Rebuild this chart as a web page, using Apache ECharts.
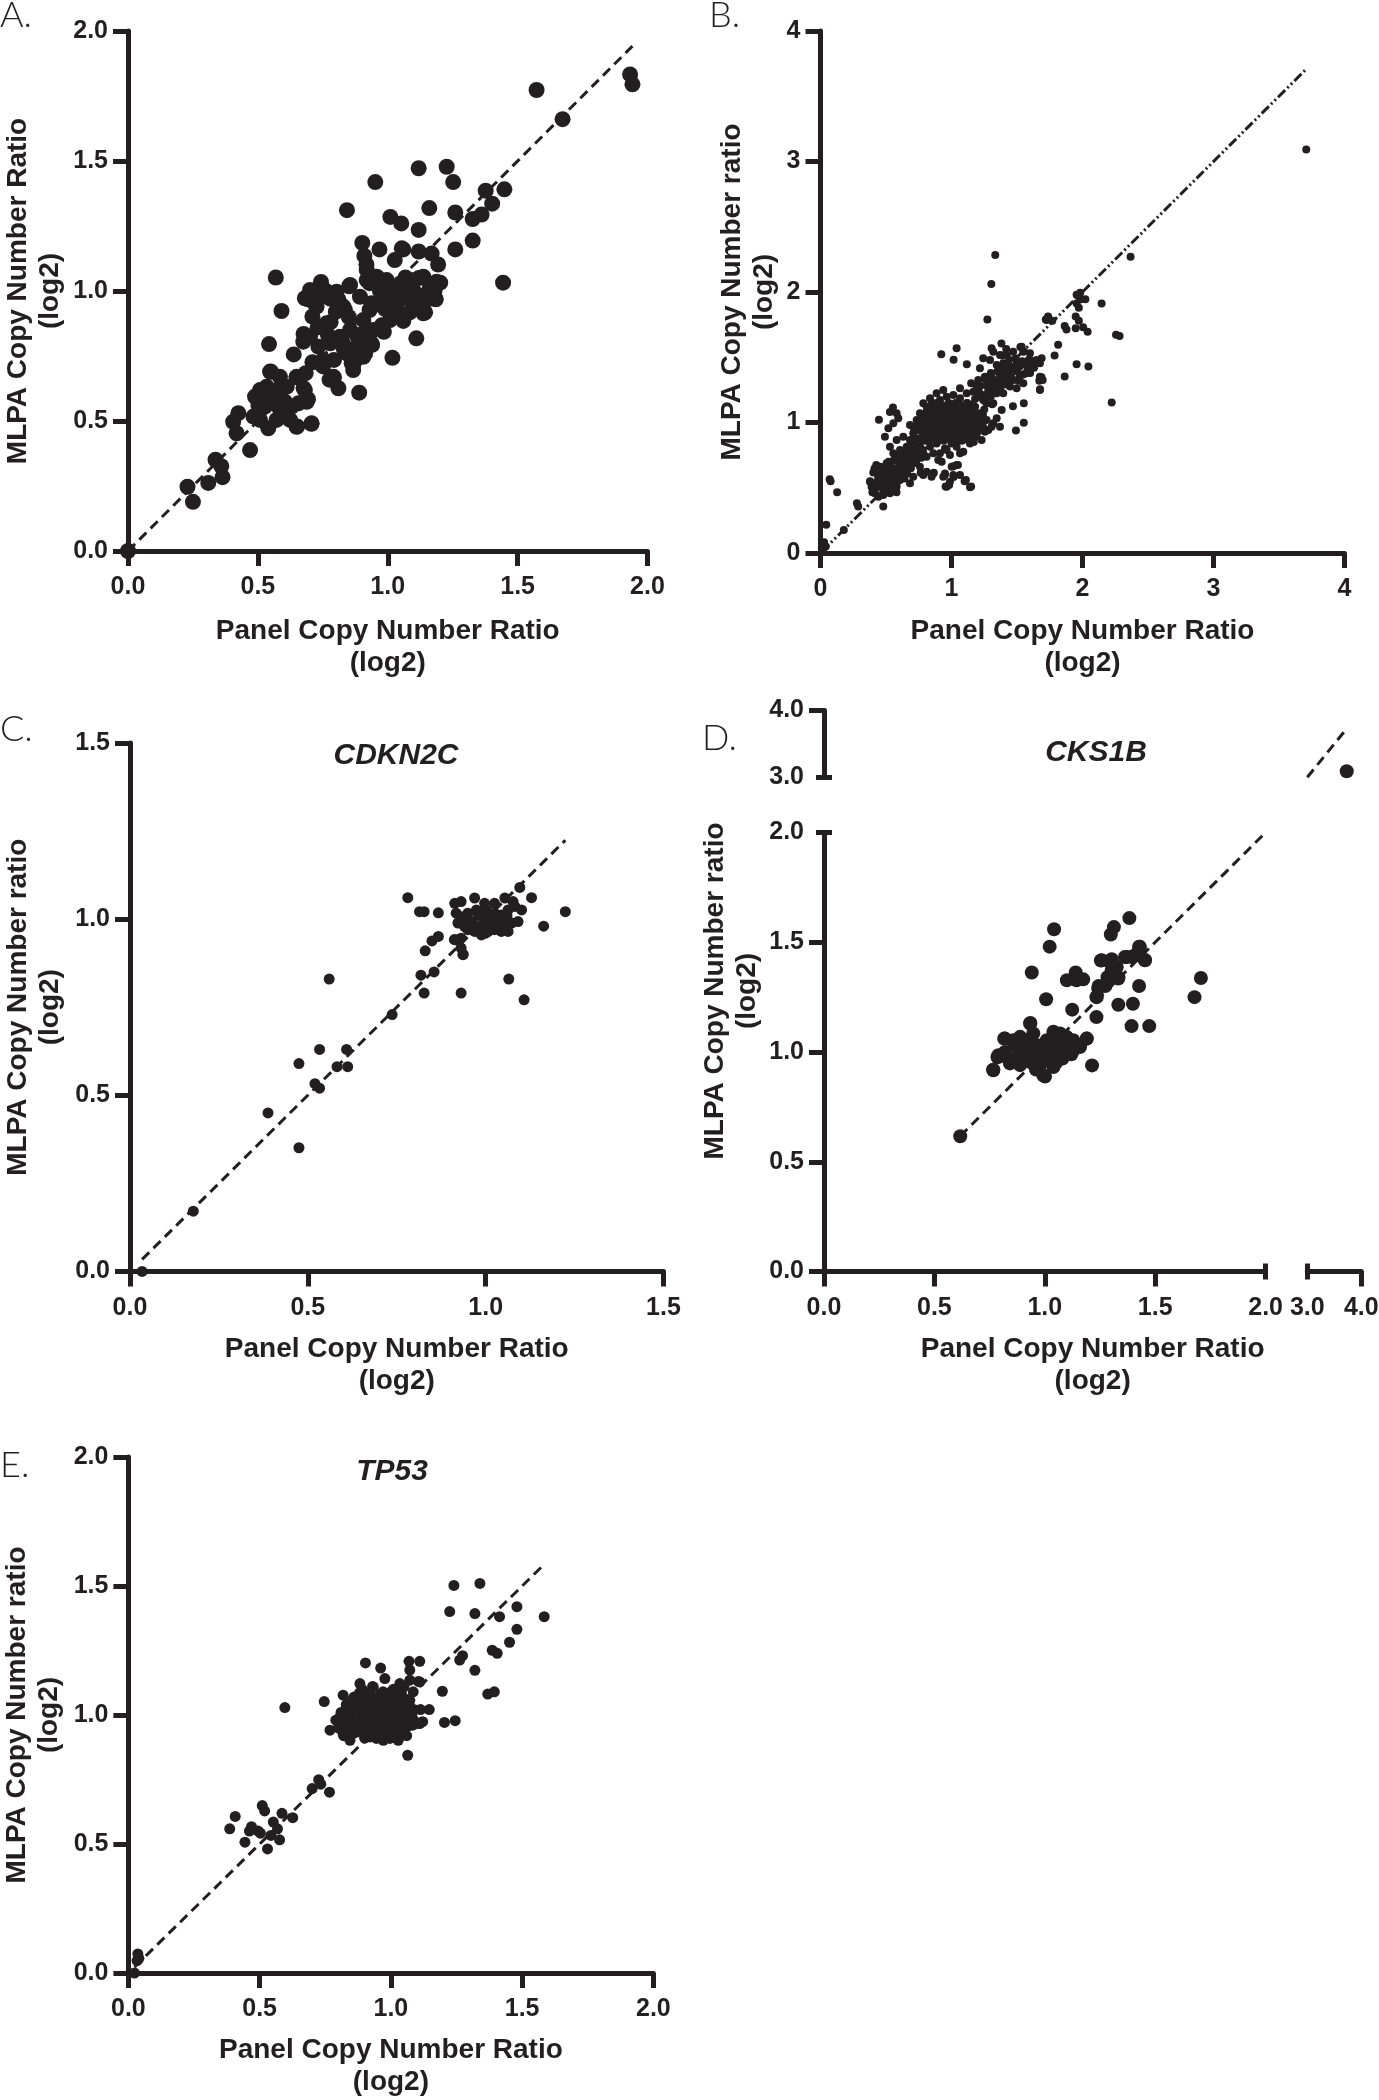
<!DOCTYPE html>
<html>
<head>
<meta charset="utf-8">
<title>MLPA vs panel copy number ratio</title>
<script src="https://cdn.jsdelivr.net/npm/echarts@6/dist/echarts.min.js"></script>
<style>
  html, body { margin: 0; padding: 0; background: #fff; }
  #main { width: 1379px; height: 2100px; }
</style>
</head>
<body>
<div id="main"></div>
<script>
// ---- data: [panel ratio (log2), MLPA ratio (log2)] ----

// A. all probes
var panelA = [
  [0,0],[0.229,0.247],[0.25,0.189],[0.309,0.262],[0.337,0.351],[0.359,0.326],[0.364,0.284],
  [0.503,0.593],[0.504,0.509],[0.543,0.796],[0.551,0.689],[0.569,1.052],[0.591,0.923],[0.638,0.756],
  [0.649,0.668],[0.651,0.479],[0.706,0.489],[0.693,0.584],[0.676,0.626],[0.684,0.684],[0.676,0.835],
  [0.693,0.968],[0.71,0.902],[0.743,1.035],[0.76,1.002],[0.71,0.726],[0.751,0.71],[0.776,0.659],
  [0.793,0.668],[0.81,0.626],[0.793,0.735],[0.776,0.81],[0.826,0.801],[0.835,0.927],[0.81,0.968],
  [0.843,1.311],[0.876,0.735],[0.868,0.718],[0.89,0.609],[0.851,1.018],[0.902,1.185],[0.918,1.102],
  [0.91,1.135],[0.952,1.419],[0.91,0.818],[0.913,0.76],[0.935,0.801],[0.94,0.793],[0.93,0.927],
  [0.968,1.16],[0.977,0.868],[0.985,0.843],[0.96,1.052],[0.993,0.952],[0.985,0.985],[1.01,1.285],
  [1.018,0.743],[1.027,1.119],[1.035,0.935],[1.052,1.26],[1.06,0.885],[1.06,1.16],[1.068,1.052],
  [1.085,0.918],[1.11,0.818],[1.119,1.472],[1.119,1.235],[1.119,1.152],[1.144,0.918],[1.16,1.319],
  [1.169,1.144],[1.185,0.968],[1.194,1.102],[1.202,1.032],[1.227,1.478],[1.252,1.419],[1.26,1.302],
  [1.26,1.16],[1.327,1.277],[1.327,1.194],[1.361,1.294],[1.377,1.386],[1.402,1.336],[1.444,1.032],
  [1.449,1.391],[1.573,1.773],[1.673,1.661],[1.933,1.833],[1.942,1.795]
];
var panelA_low = [
  [0.489,0.594],[0.508,0.619],[0.534,0.632],[0.56,0.606],[0.585,0.626],[0.611,0.632],[0.649,0.67],
  [0.681,0.619],[0.688,0.574],[0.502,0.562],[0.527,0.555],[0.553,0.574],[0.579,0.555],[0.604,0.574],
  [0.63,0.555],[0.656,0.568],[0.483,0.517],[0.508,0.504],[0.54,0.472],[0.572,0.504],[0.598,0.517],
  [0.624,0.504],[0.649,0.478],[0.707,0.491],[0.547,0.69],[0.585,0.67],[0.47,0.388],[0.425,0.53],
  [0.405,0.497],[0.418,0.453]
];
var panelA_mid = [
  [0.681,0.972],[0.701,1.004],[0.726,0.94],[0.765,0.876],[0.803,0.997],[0.829,0.94],[0.855,1.023],
  [0.893,0.978],[0.919,1.042],[0.957,1.055],[0.996,1.042],[1.034,1.017],[1.06,0.991],[1.086,1.042],
  [1.137,1.055],[1.163,1.017],[1.188,1.036],[1.182,0.972],[1.137,0.914],[1.06,0.901],[1.009,0.888],
  [0.983,0.94],[0.938,0.953],[0.906,0.888],[0.855,0.85],[0.816,0.824],[0.778,0.799],[0.733,0.786],
  [0.701,0.824],[0.675,0.805],[0.752,0.735],[0.79,0.67],[0.842,0.76],[0.88,0.786],[0.906,0.837],
  [0.944,0.85],[0.977,0.863],[0.867,0.696],[0.861,0.722],[0.906,0.747],[1.054,1.164],[0.919,1.081],
  [1.0,1.02],[1.05,1.03],[1.1,1.0],[1.12,1.05],[0.97,1.0],[0.93,1.03],[1.15,0.99],[1.08,0.97],
  [1.13,0.95],[0.99,0.93],[1.02,0.97],[1.18,1.0],[1.16,0.97],[0.78,0.88],[0.8,0.92],[0.85,0.9],
  [0.88,0.83],[0.83,0.78],[0.77,0.83],[0.9,0.79],[0.92,0.82],[0.75,0.98],[0.72,0.95],[0.73,0.86],
  [0.78,0.97]
];

// B. all genes
var panelB_spread = [
  [3.708,3.092],[2.367,2.271],[2.146,1.912],[2.223,1.154],[2.256,1.672],[2.283,1.662],[2.045,1.43],
  [1.955,1.446],[1.864,1.353],[1.864,1.739],[1.878,1.712],[1.948,1.812],[1.972,1.779],[1.955,1.978],
  [1.982,1.995],[1.988,1.945],[2.022,1.945],[1.955,1.912],[1.948,1.722],[2.039,1.696],[2.005,1.729],
  [1.972,1.879],[1.814,1.596],[1.787,1.513],[1.72,1.789],[1.737,1.812],[1.77,1.779],[1.726,1.786],
  [1.687,1.347],[1.67,1.32],[1.676,1.254],[1.334,2.284],[1.304,2.062],[1.274,1.789],[1.552,0.998],
  [1.492,0.938],[1.469,1.124],[1.552,1.147],[1.385,1.513],[1.418,1.563],[1.381,1.606],[1.526,1.579],
  [1.552,1.546],[1.039,1.569],[0.922,1.523],[1.016,1.48],[1.117,1.446],
  [0.949,0.598],[0.982,0.522],[1.016,0.582],[1.016,0.665],[1.049,0.675],[1.1,0.549],[1.15,0.509],
  [0.955,0.509],[0.865,0.615],[0.765,0.615],
  [0.07,0.565],[0.077,0.549],[0.127,0.465],[0.278,0.382],[0.288,0.356],[0.178,0.176],[0.044,0.216],
  [0.027,0.083],[0.01,0.043],[0.02,0.03],[0.04,0.05],[0.479,0.356],[0.446,1.021],[0.553,1.114],
  [0.53,1.081]
];
var panelB_upper = [
  [1.306,1.569],[1.319,1.543],[1.37,1.518],[1.421,1.518],[1.471,1.543],[1.535,1.581],[1.548,1.543],
  [1.599,1.531],[1.65,1.479],[1.675,1.454],[1.688,1.492],[1.497,1.454],[1.446,1.428],[1.395,1.454],
  [1.345,1.441],[1.294,1.479],[1.242,1.492],[1.217,1.415],[1.255,1.351],[1.306,1.326],[1.37,1.351],
  [1.421,1.377],[1.471,1.326],[1.522,1.351],[1.573,1.377],[1.548,1.3],[1.497,1.262],[1.446,1.275],
  [1.395,1.224],[1.345,1.224],[1.281,1.275],[1.242,1.173],[1.192,1.275],[1.204,1.326],[1.675,1.351],
  [1.696,1.326],[1.675,1.249],[1.37,1.262],[1.268,1.147],[1.383,1.096],[1.345,1.032],[1.319,0.994],
  [1.281,0.943],[1.37,0.968],
  [1.25,1.1],[1.3,1.2],[1.33,1.25],[1.2,1.25],[1.15,1.3],[1.35,1.3],[1.4,1.35],[1.45,1.38],
  [1.5,1.4],[1.55,1.45],[1.6,1.48],[1.42,1.45],[1.38,1.4],[1.58,1.4],[1.62,1.45],
  [1.22,1.28],[1.27,1.29],[1.32,1.27],[1.38,1.28],[1.43,1.29],
  [1.26,1.33],[1.31,1.34],[1.36,1.32],[1.41,1.33],[1.46,1.34],[1.51,1.32],
  [1.30,1.38],[1.35,1.39],[1.40,1.37],[1.45,1.38],[1.50,1.39],[1.55,1.37],[1.60,1.38],
  [1.36,1.43],[1.41,1.44],[1.47,1.42],[1.52,1.43],[1.57,1.44],[1.63,1.42],
  [1.44,1.48],[1.49,1.49],[1.54,1.47],[1.59,1.48],
  [1.18,1.18],[1.22,1.22],[1.26,1.16],[1.28,1.24],[1.31,1.14],[1.24,1.06]
];
var panelB_core = [
  [0.734,1.019],[0.759,1.071],[0.81,1.121],[0.861,1.147],[0.912,1.173],[0.963,1.198],[1.014,1.211],
  [1.065,1.186],[1.116,1.147],[1.166,1.121],[1.217,1.071],[1.268,1.019],[1.306,0.968],[0.746,0.943],
  [0.797,0.968],[0.848,1.019],[0.899,1.045],[0.95,1.071],[1.001,1.096],[1.052,1.083],[1.103,1.057],
  [1.154,1.019],[1.204,0.981],[1.255,0.929],[0.772,0.866],[0.823,0.891],[0.874,0.917],[0.925,0.943],
  [0.975,0.968],[1.026,0.994],[1.077,0.968],[1.128,0.929],[1.179,0.891],[1.23,0.866],[0.836,0.814],
  [0.886,0.84],[0.937,0.866],[0.988,0.891],[1.039,0.904],[1.09,0.879],[1.141,0.84],[0.912,0.764],
  [0.963,0.789],[1.039,0.814],[1.09,0.776],[0.886,1.224],[0.937,1.249],[0.836,1.186],[0.785,1.147],
  [0.708,0.968],[0.683,0.981],[0.734,0.879],[1.065,1.262],[1.116,1.224],[1.166,1.236],[1.217,1.198],
  [1.268,1.211],[1.319,1.147],
  [0.861,0.764],[0.899,0.712],[0.988,0.751],[1.065,0.764],[0.925,0.699],[0.785,0.597],[0.861,0.61],
  [0.95,0.61],[1.001,0.661],[1.039,0.674],[1.065,0.597],[1.11,0.559],[1.141,0.503],[0.963,0.508],
  [0.988,0.546],
  [0.78,1.0],[0.82,1.05],[0.87,1.1],[0.93,1.12],[0.98,1.15],[1.03,1.13],[1.08,1.1],[1.13,1.08],
  [1.18,1.05],[1.23,1.02],[0.85,0.95],[0.9,0.98],[0.95,1.0],[1.0,1.02],[1.05,1.03],[1.1,1.0],
  [1.15,0.97],[1.2,0.93],[0.88,0.88],[0.93,0.9],[0.98,0.93],[1.03,0.95],[1.08,0.92],[1.13,0.9],
  [0.9,1.04],[0.96,1.05],[1.01,1.06],[1.06,1.07],[0.8,0.92],[0.83,0.87],[1.0,0.84],[1.05,0.86],
  [0.95,0.8],[1.12,1.15],[1.18,1.12]
];
var panelB_dense = [
  [0.80,0.86],[0.85,0.87],[0.89,0.85],[0.94,0.86],[0.99,0.87],[1.03,0.85],[1.08,0.86],[1.12,0.87],[1.17,0.85],
  [0.78,0.90],[0.83,0.91],[0.87,0.89],[0.92,0.90],[0.96,0.91],[1.01,0.89],[1.05,0.90],[1.10,0.91],[1.15,0.89],[1.19,0.90],
  [0.76,0.94],[0.80,0.95],[0.85,0.93],[0.89,0.94],[0.94,0.95],[0.98,0.93],[1.03,0.94],[1.07,0.95],[1.12,0.93],[1.16,0.94],[1.21,0.95],
  [0.75,0.98],[0.79,0.99],[0.84,0.97],[0.88,0.98],[0.93,0.99],[0.97,0.97],[1.02,0.98],[1.06,0.99],[1.11,0.97],[1.15,0.98],[1.20,0.99],[1.24,0.97],
  [0.77,1.02],[0.81,1.03],[0.86,1.01],[0.90,1.02],[0.95,1.03],[0.99,1.01],[1.04,1.02],[1.08,1.03],[1.13,1.01],[1.17,1.02],[1.22,1.03],
  [0.79,1.06],[0.84,1.07],[0.88,1.05],[0.93,1.06],[0.97,1.07],[1.02,1.05],[1.06,1.06],[1.11,1.07],[1.15,1.05],[1.20,1.06],
  [0.82,1.10],[0.86,1.11],[0.91,1.09],[0.95,1.10],[1.00,1.11],[1.04,1.09],[1.09,1.10],[1.13,1.11],
  [0.85,1.14],[0.89,1.15],[0.94,1.13],[0.98,1.14],[1.03,1.15],[1.07,1.13],
  [0.82,0.88],[0.87,0.88],[0.91,0.87],[0.96,0.88],[1.01,0.88],[1.05,0.87],[1.10,0.88],[1.14,0.88],
  [0.80,0.92],[0.85,0.92],[0.90,0.93],[0.94,0.92],[0.99,0.92],[1.03,0.93],[1.08,0.92],[1.13,0.92],[1.17,0.93],
  [0.78,0.96],[0.82,0.96],[0.87,0.95],[0.91,0.96],[0.96,0.96],[1.00,0.95],[1.05,0.96],[1.09,0.96],[1.14,0.95],[1.18,0.96],[1.22,0.96],
  [0.77,1.00],[0.82,1.00],[0.86,0.99],[0.91,1.00],[0.95,1.00],[1.00,0.99],[1.04,1.00],[1.09,1.00],[1.13,0.99],[1.18,1.00],[1.22,1.00],
  [0.79,1.04],[0.83,1.04],[0.88,1.03],[0.92,1.04],[0.97,1.04],[1.01,1.03],[1.06,1.04],[1.10,1.04],[1.15,1.03],[1.19,1.04],
  [0.81,1.08],[0.86,1.08],[0.90,1.07],[0.95,1.08],[0.99,1.08],[1.04,1.07],[1.08,1.08],[1.13,1.08],[1.17,1.07],
  [0.84,1.12],[0.89,1.12],[0.93,1.11],[0.98,1.12],[1.02,1.12],[1.07,1.11],[1.11,1.12]
];
var panelB_lower = [
  [0.426,0.674],[0.403,0.616],[0.378,0.546],[0.39,0.508],[0.416,0.457],[0.442,0.431],[0.479,0.444],
  [0.53,0.457],[0.581,0.508],[0.581,1.071],[0.594,1.032],[0.556,0.994],[0.518,0.955],[0.492,0.891],
  [0.454,0.559],[0.505,0.585],[0.556,0.636],[0.607,0.687],[0.658,0.738],[0.708,0.789],[0.759,0.814],
  [0.556,0.764],[0.607,0.789],[0.53,0.814],[0.581,0.866],[0.632,0.891],[0.683,0.866],[0.658,0.814],
  [0.708,0.917],[0.454,0.661],[0.505,0.687],[0.479,0.61],[0.53,0.534],[0.581,0.585],[0.632,0.585],
  [0.683,0.661],[0.734,0.712],[0.759,0.661],[0.81,0.738],[0.785,0.764],[0.429,0.508],[0.479,0.495],
  [0.556,0.534],[0.607,0.559],[0.658,0.61],[0.708,0.585],[0.683,0.534],[0.81,0.623],[0.848,0.585],
  [0.937,0.585],[1.014,0.597],[0.379,0.549],[0.396,0.465],[0.412,0.648],[0.479,0.482],[0.58,0.465],
  [0.446,0.598],
  [0.42,0.50],[0.46,0.51],[0.50,0.49],[0.54,0.50],
  [0.43,0.54],[0.47,0.55],[0.51,0.53],[0.55,0.54],[0.59,0.55],
  [0.44,0.58],[0.48,0.59],[0.52,0.57],[0.56,0.58],[0.60,0.59],[0.64,0.57],
  [0.46,0.62],[0.50,0.63],[0.54,0.61],[0.58,0.62],[0.62,0.63],[0.66,0.61],
  [0.49,0.66],[0.53,0.67],[0.57,0.65],[0.61,0.66],[0.65,0.67],[0.69,0.65],
  [0.52,0.70],[0.56,0.71],[0.60,0.69],[0.64,0.70],[0.68,0.71],[0.72,0.69],
  [0.57,0.74],[0.61,0.75],[0.65,0.73],[0.69,0.74],[0.73,0.75],[0.77,0.73],
  [0.62,0.78],[0.66,0.79],[0.70,0.77],[0.74,0.78],[0.78,0.79],
  [0.68,0.82],[0.72,0.83],[0.76,0.81]
];

// C. CDKN2C
var panelC = [
  [0.034,0],[0.178,0.171],[0.388,0.45],[0.475,0.351],[0.475,0.59],[0.52,0.533],[0.533,0.52],
  [0.533,0.63],[0.56,0.83],[0.582,0.581],[0.609,0.63],[0.612,0.581],[0.737,0.729],[0.781,1.061],
  [0.814,1.021],[0.827,1.021],[0.83,0.91],[0.818,0.841],[0.827,0.79],[0.849,0.938],[0.867,0.951],
  [0.855,0.85],[0.867,1.018],[0.931,0.79],[0.937,0.9],[0.912,0.942],[1.065,0.83],[1.108,0.771],
  [1.163,0.98],[1.224,1.021],[1.129,1.061],[1.096,1.09]
];
var panelC_cluster = [
  [0.913,1.045],[0.931,1.05],[0.969,1.06],[0.997,1.045],[1.025,1.045],[1.054,1.06],[1.077,1.05],
  [0.917,1.017],[0.931,1.007],[0.95,1.017],[0.974,1.026],[1.002,1.026],[1.025,1.017],[1.044,1.012],
  [1.063,1.026],[1.082,1.036],[1.101,1.026],[0.922,0.989],[0.941,0.979],[0.96,0.993],[0.979,0.979],
  [0.997,0.989],[1.016,0.998],[1.035,0.984],[1.054,0.979],[1.073,0.989],[1.091,0.993],[0.969,0.965],
  [0.988,0.955],[1.007,0.965],[1.025,0.97],[1.044,0.965],[1.063,0.965],[0.931,0.946],[0.917,0.941],
  [0.931,0.918],[0.936,0.899],[1.0,1.0],[0.99,0.97],[1.04,1.0],[0.95,1.0],[1.06,1.01],
  [0.94,1.0],[0.98,1.01],[1.02,0.99],[1.06,1.0],[0.95,0.97],[1.0,0.96],[1.05,0.97]
];

// D. CKS1B (one point beyond the axis break)
var panelD = [
  [0.617,0.616],[0.766,0.919],[0.786,0.976],[0.816,1.061],[0.941,1.362],[0.935,1.132],[1.006,1.24],
  [1.022,1.48],[1.042,1.559],[1.001,0.888],[1.1,1.327],[1.144,1.327],[1.124,1.193],[1.14,1.362],
  [1.174,1.331],[1.19,1.061],[1.214,0.939],[1.234,1.159],[1.234,1.25],[1.244,1.301],[1.254,1.417],
  [1.299,1.535],[1.313,1.569],[1.333,1.215],[1.383,1.61],[1.399,1.22],[1.393,1.118],[1.427,1.301],
  [1.427,1.48],[1.453,1.419],[1.473,1.118],[1.678,1.25],[1.707,1.337],[1.303,1.372],[1.333,1.341],
  [1.284,1.341],[1.274,1.301],[1.303,1.423],[1.363,1.433],[1.393,1.433],[1.423,1.453],
  [1.258,1.418],[1.295,1.41],[1.326,1.387],[1.371,1.433],[1.408,1.441],[1.431,1.479],[1.454,1.418],
  [1.242,1.289],[1.235,1.251],[1.28,1.312],[1.31,1.357],[1.333,1.335]
];
var panelD_cluster = [
  [0.767,0.917],[0.79,0.985],[0.82,1.061],[0.858,1.054],[0.888,1.069],[0.918,1.054],[0.948,1.039],
  [0.978,1.023],[1.009,1.054],[1.039,1.092],[1.069,1.084],[1.099,1.069],[1.129,1.054],[1.159,1.023],
  [1.19,1.061],[0.827,0.978],[0.858,0.963],[0.888,0.993],[0.918,0.978],[0.948,0.993],[0.978,0.978],
  [1.009,0.993],[1.039,1.008],[1.069,1.023],[1.099,1.023],[1.129,1.008],[0.842,0.948],[0.888,0.94],
  [0.933,0.955],[0.978,0.94],[1.024,0.963],[1.069,0.978],[0.993,0.894],[1.039,0.932],[0.948,1.084],
  [0.903,1.023],[1.024,1.039],[0.933,1.13],
  [0.84,0.96],[0.90,0.97],[0.96,0.95],[1.02,0.96],[1.08,0.97],
  [0.82,1.00],[0.88,1.01],[0.94,0.99],[1.00,1.00],[1.06,1.01],[1.12,0.99],
  [0.86,1.04],[0.92,1.05],[0.98,1.03],[1.04,1.04],[1.10,1.05],[1.16,1.03],
  [1.05,0.95],[0.96,0.92]
];
var panelD_break = [[3.73,3.09]];

// E. TP53
var panelE = [
  [0.023,0],[0.036,0.074],[0.033,0.048],[0.04,0.057],[0.386,0.559],[0.407,0.607],[0.444,0.507],
  [0.461,0.55],[0.469,0.567],[0.51,0.649],[0.519,0.628],[0.53,0.481],[0.503,0.542],[0.543,0.533],
  [0.568,0.559],[0.576,0.516],[0.585,0.619],[0.626,0.602],[0.552,0.585],[0.494,0.55],[0.596,1.029],
  [0.7,0.715],[0.725,0.749],[0.733,0.732],[0.766,0.701],[0.746,1.052],[1.064,0.844],[1.196,1.092],
  [1.204,0.971],[1.245,0.978],[1.146,1.021],[1.224,1.401],[1.24,1.502],[1.32,1.393],[1.339,1.51],
  [1.262,1.213],[1.273,1.23],[1.32,1.173],[1.369,1.081],[1.394,1.09],[1.386,1.251],[1.405,1.239],
  [1.414,1.381],[1.452,1.282],[1.48,1.332],[1.48,1.42],[1.584,1.381],[0.903,1.202],[0.961,1.182],
  [1.069,1.208],[1.11,1.208],[1.105,1.13],[1.113,1.021],[1.121,0.974]
];
var panelE_cluster = [
  [0.768,0.941],[0.818,1.077],[0.806,0.993],[0.818,0.928],[0.844,0.902],[0.856,0.954],[0.831,1.019],
  [0.856,1.045],[0.882,1.122],[0.977,1.141],[0.933,1.109],[0.907,1.07],[0.882,1.031],[0.869,0.98],
  [0.895,0.941],[0.92,0.915],[0.945,0.909],[0.971,0.902],[0.996,0.909],[1.028,0.902],[1.034,0.941],
  [1.06,0.954],[1.085,0.98],[1.11,0.967],[1.085,1.019],[1.072,1.057],[1.085,1.09],[1.072,1.135],
  [1.11,1.128],[1.034,1.122],[1.009,1.096],[0.984,1.083],[0.958,1.057],[0.933,1.031],[0.907,1.006],
  [0.92,0.967],[0.945,0.993],[0.971,1.019],[0.996,1.045],[1.022,1.07],[1.047,1.045],[1.06,1.006],
  [1.034,0.98],[1.009,0.993],[0.984,0.967],[0.958,0.954],[0.996,0.954],[1.022,1.019],[1.072,1.174]
];
var panelE_dense = [
  [0.82,0.92],[0.86,0.93],[0.90,0.91],[0.94,0.92],[0.98,0.93],[1.02,0.91],[1.06,0.92],
  [0.80,0.95],[0.84,0.96],[0.88,0.94],[0.92,0.95],[0.96,0.96],[1.00,0.94],[1.04,0.95],[1.08,0.96],
  [0.79,0.98],[0.83,0.99],[0.87,0.97],[0.91,0.98],[0.95,0.99],[0.99,0.97],[1.03,0.98],[1.07,0.99],[1.10,0.97],
  [0.81,1.01],[0.85,1.02],[0.89,1.00],[0.93,1.01],[0.97,1.02],[1.01,1.00],[1.05,1.01],[1.09,1.02],
  [0.83,1.04],[0.87,1.05],[0.91,1.03],[0.95,1.04],[0.99,1.05],[1.03,1.03],[1.07,1.04],
  [0.86,1.07],[0.90,1.08],[0.94,1.06],[0.98,1.07],[1.02,1.08],[1.06,1.06],
  [0.89,1.10],[0.93,1.11],[0.97,1.09],[1.01,1.10],[1.05,1.11],
  [0.84,0.935],[0.88,0.935],[0.92,0.93],[0.96,0.94],[1.00,0.935],[1.04,0.93],
  [0.82,0.965],[0.86,0.965],[0.90,0.96],[0.94,0.97],[0.98,0.965],[1.02,0.96],[1.06,0.97],[1.09,0.965],
  [0.81,0.995],[0.85,0.995],[0.89,0.99],[0.93,1.0],[0.97,0.995],[1.01,0.99],[1.05,1.0],[1.08,0.995],
  [0.83,1.025],[0.87,1.025],[0.91,1.02],[0.95,1.03],[0.99,1.025],[1.03,1.02],[1.07,1.03],
  [0.85,1.055],[0.89,1.055],[0.93,1.05],[0.97,1.06],[1.01,1.055],[1.05,1.05],
  [0.88,1.085],[0.92,1.085],[0.96,1.08],[1.00,1.09],[1.04,1.085]
];

var INK = '#231f20';
var FONT = '"Liberation Sans", Arial, Helvetica, sans-serif';
var xTitle = 'Panel Copy Number Ratio\n(log2)';

function fmt1(v) { return v.toFixed(1); }
function fmt0(v) { return String(Math.round(v)); }

// one x + one y axis per grid, so grid/x/y indices always match
var grids = [], xAxes = [], yAxes = [], series = [];

function addGrid(rect, xa, ya) {
  var gi = grids.length;
  rect.containLabel = false;
  rect.outerBoundsMode = 'none';
  grids.push(rect);
  xa.gridIndex = gi; ya.gridIndex = gi;
  xAxes.push(xa); yAxes.push(ya);
  return gi;
}

function valAxis(min, max, step, o) {
  o = o || {};
  var a = {
    type: 'value', min: min, max: max, interval: step,
    splitLine: { show: false },
    axisLine: { show: o.line !== false, onZero: false, lineStyle: { color: INK, width: 5 } },
    axisTick: { show: o.tick !== false, length: o.tickLen || 15, inside: !!o.inside,
                lineStyle: { color: INK, width: 5 } },
    axisLabel: { show: o.label !== false, margin: o.margin || 20, color: INK, fontSize: 25,
                 fontWeight: 'bold', fontFamily: FONT, formatter: o.fmt || fmt1 }
  };
  if (o.ticks) a.axisTick.customValues = o.ticks;
  if (o.name) {
    a.name = o.name;
    a.nameLocation = 'middle';
    a.nameGap = o.nameGap;
    if (o.rotate) a.nameRotate = 90;
    a.nameTextStyle = { color: INK, fontSize: 28, fontWeight: 'bold', fontFamily: FONT, lineHeight: 32 };
  }
  return a;
}
function hidden(min, max) { return { type: 'value', show: false, min: min, max: max }; }

function addPoints(gi, pts, size) {
  series.push({ type: 'scatter', xAxisIndex: gi, yAxisIndex: gi, data: pts, symbolSize: size,
                itemStyle: { color: INK, opacity: 1 }, z: 3, silent: true });
}
// dashed line of identity, from lo to hi
function addIdentity(gi, lo, hi, dash) {
  series.push({ type: 'line', xAxisIndex: gi, yAxisIndex: gi, data: [[lo, lo], [hi, hi]],
                symbol: 'none', lineStyle: { color: INK, width: 3, type: dash }, z: 2, silent: true });
}
function minX(pts) { return Math.min.apply(null, pts.map(function (p) { return p[0]; })); }
function maxX(pts) { return Math.max.apply(null, pts.map(function (p) { return p[0]; })); }

var DASH = [10, 6];

// A
var allA = panelA.concat(panelA_low, panelA_mid);
var gA = addGrid({ left: 128, top: 31, width: 519.5, height: 520 },
  valAxis(0, 2, 0.5, { margin: 24, name: xTitle, nameGap: 64 }),
  valAxis(0, 2, 0.5, { name: 'MLPA Copy Number Ratio\n(log2)', nameGap: 62, rotate: true }));
addIdentity(gA, minX(allA), maxX(allA), DASH);
addPoints(gA, allA, 16);

// B
var allB = panelB_spread.concat(panelB_upper, panelB_core, panelB_dense, panelB_lower);
var gB = addGrid({ left: 820.5, top: 31, width: 524, height: 522 },
  valAxis(0, 4, 1, { margin: 24, fmt: fmt0, name: xTitle, nameGap: 62 }),
  valAxis(0, 4, 1, { fmt: fmt0, name: 'MLPA Copy Number ratio\n(log2)', nameGap: 40, rotate: true }));
addIdentity(gB, minX(allB), maxX(allB), [10, 3, 2, 3, 2, 3]);
addPoints(gB, allB, 8);

// C
var allC = panelC.concat(panelC_cluster);
var gC = addGrid({ left: 130, top: 743, width: 533.5, height: 528.4 },
  valAxis(0, 1.5, 0.5, { margin: 24, name: xTitle, nameGap: 62 }),
  valAxis(0, 1.5, 0.5, { name: 'MLPA Copy Number ratio\n(log2)', nameGap: 64, rotate: true }));
addIdentity(gC, minX(allC), maxX(allC), DASH);
addPoints(gC, allC, 11);

// D, broken axes: main 0-2, top 3-4 (y), right 3-4 (x)
var allD = panelD.concat(panelD_cluster);
var dMain = { left: 824, top: 832.5, width: 441.6, height: 439 };
var dTop = { left: 824, top: 710.5, width: 441.6, height: 66.8 };
var dRight = { left: 1307.3, top: 832.5, width: 54, height: 439 };
var dCorner = { left: 1307.3, top: 710.5, width: 54, height: 66.8 };
function copy(r) { return { left: r.left, top: r.top, width: r.width, height: r.height }; }

var gD = addGrid(copy(dMain),
  valAxis(0, 2, 0.5, { margin: 24, ticks: [0, 0.5, 1, 1.5] }),
  valAxis(0, 2, 0.5, { ticks: [0, 0.5, 1, 1.5] }));
// end caps at 2.0 crossing the axis line
addGrid(copy(dMain),
  valAxis(0, 2, 0.5, { line: false, label: false, ticks: [2], tickLen: 8 }),
  valAxis(0, 2, 0.5, { line: false, label: false, ticks: [2], tickLen: 8 }));
addGrid(copy(dMain),
  valAxis(0, 2, 0.5, { line: false, label: false, ticks: [2], tickLen: 8, inside: true }),
  valAxis(0, 2, 0.5, { line: false, label: false, ticks: [2], tickLen: 8, inside: true }));
addGrid(copy(dTop), hidden(0, 2), valAxis(3, 4, 1, { ticks: [4] }));
addGrid(copy(dTop), hidden(0, 2), valAxis(3, 4, 1, { line: false, label: false, ticks: [3], tickLen: 8 }));
addGrid(copy(dTop), hidden(0, 2), valAxis(3, 4, 1, { line: false, label: false, ticks: [3], tickLen: 8, inside: true }));
addGrid(copy(dRight), valAxis(3, 4, 1, { margin: 24, ticks: [4] }), hidden(0, 2));
addGrid(copy(dRight), valAxis(3, 4, 1, { line: false, label: false, ticks: [3], tickLen: 8 }), hidden(0, 2));
addGrid(copy(dRight), valAxis(3, 4, 1, { line: false, label: false, ticks: [3], tickLen: 8, inside: true }), hidden(0, 2));
var gDc = addGrid(copy(dCorner), hidden(3, 4), hidden(3, 4));
// axis titles centred on the whole broken frame
addGrid({ left: 824, top: 710.5, width: 537.3, height: 561 },
  valAxis(0, 1, 1, { line: false, tick: false, label: false, name: xTitle, nameGap: 62 }),
  valAxis(0, 1, 1, { line: false, tick: false, label: false,
                     name: 'MLPA Copy Number ratio\n(log2)', nameGap: 61, rotate: true }));
addIdentity(gD, minX(allD), 2, DASH);
addPoints(gD, allD, 14);
addIdentity(gDc, 3, 3.7, DASH);
addPoints(gDc, panelD_break, 14);

// E
var allE = panelE.concat(panelE_cluster, panelE_dense);
var gE = addGrid({ left: 128.4, top: 1457, width: 525, height: 516 },
  valAxis(0, 2, 0.5, { margin: 24, name: xTitle, nameGap: 61 }),
  valAxis(0, 2, 0.5, { name: 'MLPA Copy Number ratio\n(log2)', nameGap: 63, rotate: true }));
addIdentity(gE, minX(allE), maxX(allE), DASH);
addPoints(gE, allE, 11);

function label(t, x, y) {
  return { type: 'text', left: x, top: y - 20, silent: true,
           style: { text: t, fill: INK, font: '300 36px Lato, "Open Sans", sans-serif' } };
}
function gene(t, x, y) {
  return { type: 'text', x: x, y: y, silent: true,
           style: { text: t, fill: INK, align: 'center', verticalAlign: 'middle',
                    textAlign: 'center', textVerticalAlign: 'middle',
                    font: 'italic bold 30px ' + FONT } };
}

var chart = echarts.init(document.getElementById('main'));
chart.setOption({
  animation: false,
  backgroundColor: '#fff',
  grid: grids,
  xAxis: xAxes,
  yAxis: yAxes,
  series: series,
  graphic: [
    label('A.', 0, 17), label('B.', 709, 17), label('C.', 0, 731), label('D.', 702, 740), label('E.', 0, 1467),
    gene('CDKN2C', 396, 756), gene('CKS1B', 1096, 753), gene('TP53', 392, 1472)
  ]
});
window.onresize = chart.resize;
</script>
</body>
</html>
